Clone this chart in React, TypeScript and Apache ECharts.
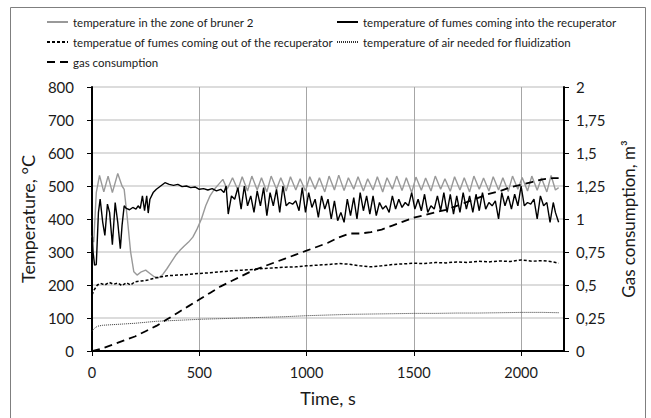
import React, { useEffect, useRef } from "react";
import * as echarts from "echarts";

const burnerZone: [number, number][] = [
  [0,350],[8,330],[20,480],[35,532],[55,482],[75,530],[95,480],[120,538],[140,500],[150,490],[165,400],[180,300],[195,240],[210,230],[230,240],[250,245],[270,235],[290,225],[310,222],[330,232],[350,250],[370,270],[390,290],[410,305],[430,318],[450,330],[470,345],[490,370],[510,400],[530,440],[550,470],[570,490],[590,505],
  [610,520],[630,490],[655,525],[680,488],[700,528],[725,485],[745,530],[770,488],[790,525],[815,482],[835,530],[860,490],[880,525],[905,485],[925,528],[950,488],[970,522],[995,485],[1015,528],[1040,490],[1060,525],[1085,482],[1105,530],[1130,488],[1150,533],[1175,486],[1195,525],[1220,490],[1240,528],[1265,485],[1285,522],[1310,488],[1330,528],[1355,482],[1375,525],[1400,490],[1420,530],[1445,486],[1465,525],[1490,480],[1510,527],[1535,487],[1555,524],[1580,485],[1600,530],[1625,490],[1645,522],[1670,484],[1690,528],[1715,488],[1735,525],[1760,482],[1780,530],[1805,490],[1825,524],[1850,485],[1870,528],[1895,488],[1915,525],[1940,483],[1960,530],[1985,490],[2005,526],[2030,485],[2050,530],[2075,487],[2095,524],[2120,482],[2140,532],[2160,488],[2175,495]
];

const fumesIn: [number, number][] = [
  [0,370],[5,300],[12,260],[20,262],[30,420],[38,460],[50,390],[60,350],[72,445],[82,420],[95,322],[108,450],[120,390],[132,310],[140,380],[150,440],[160,432],[175,428],[190,435],[205,430],[215,440],[225,432],[235,470],[245,425],[255,470],[262,418],[270,460],[285,480],[300,490],[320,500],[340,510],[360,505],[380,502],[400,505],[420,498],[440,500],[460,495],[480,497],[500,490],[520,492],[540,488],[560,492],[580,485],[600,490],[615,480],[625,500],[635,415],[650,470],[665,460],[680,495],[695,430],[710,500],[725,440],[740,470],[755,420],[770,485],[785,440],[800,495],[815,410],[830,480],[845,440],[860,490],[875,420],[890,500],[905,440],[920,450],[935,445],[950,455],[965,425],[980,495],[995,420],[1010,480],[1025,435],[1040,460],[1055,405],[1070,470],[1085,430],[1100,460],[1115,400],[1130,455],[1145,395],[1160,420],[1175,390],[1190,460],[1205,410],[1220,465],[1235,400],[1250,480],[1265,425],[1280,470],[1295,415],[1310,470],[1325,410],[1340,450],[1355,430],[1370,440],[1385,420],[1400,470],[1415,430],[1430,460],[1445,435],[1460,450],[1475,440],[1490,480],[1505,430],[1520,460],[1535,425],[1550,475],[1565,420],[1580,440],[1595,430],[1610,470],[1625,425],[1640,480],[1655,420],[1670,475],[1685,415],[1700,470],[1715,420],[1730,480],[1745,430],[1760,470],[1775,420],[1790,475],[1805,425],[1820,480],[1835,430],[1850,450],[1865,440],[1880,455],[1895,400],[1910,480],[1925,440],[1940,470],[1955,430],[1970,475],[1985,440],[2000,500],[2015,440],[2030,450],[2045,445],[2060,460],[2075,400],[2090,470],[2105,440],[2120,450],[2135,390],[2150,450],[2160,420],[2170,400],[2175,390]
];

const fumesOut: [number, number][] = [
  [0,170],[10,185],[25,200],[40,205],[60,200],[80,208],[100,202],[120,206],[140,198],[160,207],[180,200],[200,210],[230,212],[260,215],[300,222],[350,228],[400,230],[450,232],[500,235],[550,237],[600,240],[650,243],[700,245],[750,247],[800,250],[850,252],[900,254],[950,255],[1000,258],[1050,260],[1100,262],[1150,265],[1200,263],[1250,258],[1300,255],[1350,258],[1400,262],[1450,264],[1500,266],[1550,265],[1600,268],[1650,267],[1700,270],[1750,268],[1800,272],[1850,270],[1900,273],[1950,271],[2000,276],[2050,272],[2100,274],[2150,270],[2175,266]
];

const fluidAir: [number, number][] = [
  [0,60],[10,68],[25,75],[50,78],[100,80],[150,82],[200,84],[250,87],[300,90],[400,93],[500,96],[600,98],[700,100],[800,102],[900,104],[1000,107],[1100,109],[1200,111],[1300,112],[1400,113],[1500,114],[1600,114],[1700,115],[1800,115],[1900,116],[2000,117],[2100,117],[2175,116]
];

const gasConsumption: [number, number][] = [
  [0,0],[50,0.02],[100,0.05],[150,0.08],[200,0.11],[250,0.15],[300,0.19],[350,0.24],[400,0.29],[450,0.34],[500,0.39],[550,0.44],[600,0.49],[650,0.53],[700,0.57],[750,0.61],[800,0.64],[850,0.67],[900,0.70],[950,0.73],[1000,0.76],[1050,0.79],[1100,0.82],[1150,0.86],[1200,0.89],[1250,0.89],[1300,0.90],[1350,0.92],[1400,0.95],[1450,0.98],[1500,1.01],[1550,1.03],[1600,1.05],[1650,1.07],[1700,1.10],[1750,1.13],[1800,1.16],[1850,1.19],[1900,1.21],[1950,1.24],[2000,1.26],[2050,1.28],[2100,1.30],[2150,1.31],[2175,1.31]
];

const seriesNames = [
  "temperature in the zone of bruner 2",
  "temperature of fumes coming into the recuperator",
  "temperatue of fumes coming out of the recuperator",
  "temperature of air needed for fluidization",
  "gas consumption",
];

const FONT = "Lato, 'Open Sans', sans-serif";

export default function App() {
  const ref = useRef<HTMLDivElement>(null);
  useEffect(() => {
    if (!ref.current) return;
    const chart = echarts.init(ref.current, undefined, { renderer: "svg" });
    const legendText = { fontSize: 11.5, color: "#1a1a1a", fontFamily: FONT };
    const mkLegend = (name: string, left: number, top: number) => ({
      data: [name],
      left,
      top,
      padding: 0,
      itemWidth: 21,
      itemHeight: 10,
      itemGap: 0,
      itemStyle: { opacity: 0 },
      textStyle: legendText,
    });
    chart.setOption({
      animation: false,
      backgroundColor: "#fff",
      textStyle: { fontFamily: FONT },
      graphic: [
        {
          type: "rect",
          shape: { x: 10.5, y: 7.5, width: 635, height: 420 },
          style: { fill: "none", stroke: "#7f7f7f", lineWidth: 1 },
          silent: true,
        },
      ],
      legend: [
        mkLegend(seriesNames[0], 46, 16),
        mkLegend(seriesNames[1], 336, 16),
        mkLegend(seriesNames[2], 46, 36),
        mkLegend(seriesNames[3], 336, 36),
        mkLegend(seriesNames[4], 46, 56),
      ],
      grid: { left: 92, right: 87, top: 87, bottom: 67 },
      xAxis: {
        type: "value",
        min: 0,
        max: 2200,
        interval: 500,
        name: "Time, s",
        nameLocation: "middle",
        nameGap: 38,
        nameTextStyle: { fontSize: 18, color: "#1a1a1a", fontFamily: FONT },
        axisLine: { onZero: false, lineStyle: { color: "#000", width: 2 } },
        axisTick: { show: true, length: 5, lineStyle: { color: "#000", width: 1 } },
        axisLabel: {
          fontSize: 14.5,
          color: "#1a1a1a",
          margin: 14,
          showMaxLabel: false,
          fontFamily: FONT,
          formatter: (v: number) => String(v),
        },
        splitLine: { show: true, lineStyle: { color: "#a6a6a6", width: 1 } },
      },
      yAxis: [
        {
          type: "value",
          min: 0,
          max: 800,
          interval: 100,
          name: "Temperature, °C",
          nameLocation: "middle",
          nameGap: 48,
          nameTextStyle: { fontSize: 18, color: "#1a1a1a", fontFamily: FONT },
          axisLine: { show: true, lineStyle: { color: "#000", width: 2 } },
          axisTick: { show: true, length: 5, lineStyle: { color: "#000", width: 1 } },
          axisLabel: { fontSize: 15, color: "#1a1a1a", margin: 18, fontFamily: FONT },
          splitLine: { show: true, lineStyle: { color: "#d0d0d0", width: 1.5 } },
        },
        {
          type: "value",
          min: 0,
          max: 2,
          interval: 0.25,
          position: "right",
          name: "Gas consumption, m³",
          nameLocation: "middle",
          nameGap: 56,
          nameRotate: 90,
          nameTextStyle: { fontSize: 17, color: "#1a1a1a", fontFamily: FONT },
          axisLine: { show: true, lineStyle: { color: "#000", width: 2 } },
          axisTick: { show: true, length: 5, lineStyle: { color: "#000", width: 1 } },
          axisLabel: {
            fontSize: 15,
            color: "#1a1a1a",
            margin: 12,
            fontFamily: FONT,
            formatter: (v: number) => String(v).replace(".", ","),
          },
          splitLine: { show: false },
        },
      ],
      series: [
        {
          name: seriesNames[0],
          type: "line",
          data: burnerZone,
          symbol: "none",
          lineStyle: { color: "#999999", width: 1.4 },
          itemStyle: { color: "#999999" },
        },
        {
          name: seriesNames[1],
          type: "line",
          data: fumesIn,
          symbol: "none",
          lineStyle: { color: "#000", width: 1.4 },
          itemStyle: { color: "#000" },
        },
        {
          name: seriesNames[2],
          type: "line",
          data: fumesOut,
          symbol: "none",
          lineStyle: { color: "#000", width: 1.5, type: [3, 2] },
          itemStyle: { color: "#000" },
        },
        {
          name: seriesNames[3],
          type: "line",
          data: fluidAir,
          symbol: "none",
          lineStyle: { color: "#333", width: 1, type: [1, 1] },
          itemStyle: { color: "#333" },
        },
        {
          name: seriesNames[4],
          type: "line",
          yAxisIndex: 1,
          data: gasConsumption,
          symbol: "none",
          lineStyle: { color: "#000", width: 1.8, type: [8, 5] },
          itemStyle: { color: "#000" },
        },
      ],
    });
    return () => chart.dispose();
  }, []);
  return (
    <div
      ref={ref}
      style={{ position: "fixed", left: 0, top: 0, width: 651, height: 418 }}
    />
  );
}
